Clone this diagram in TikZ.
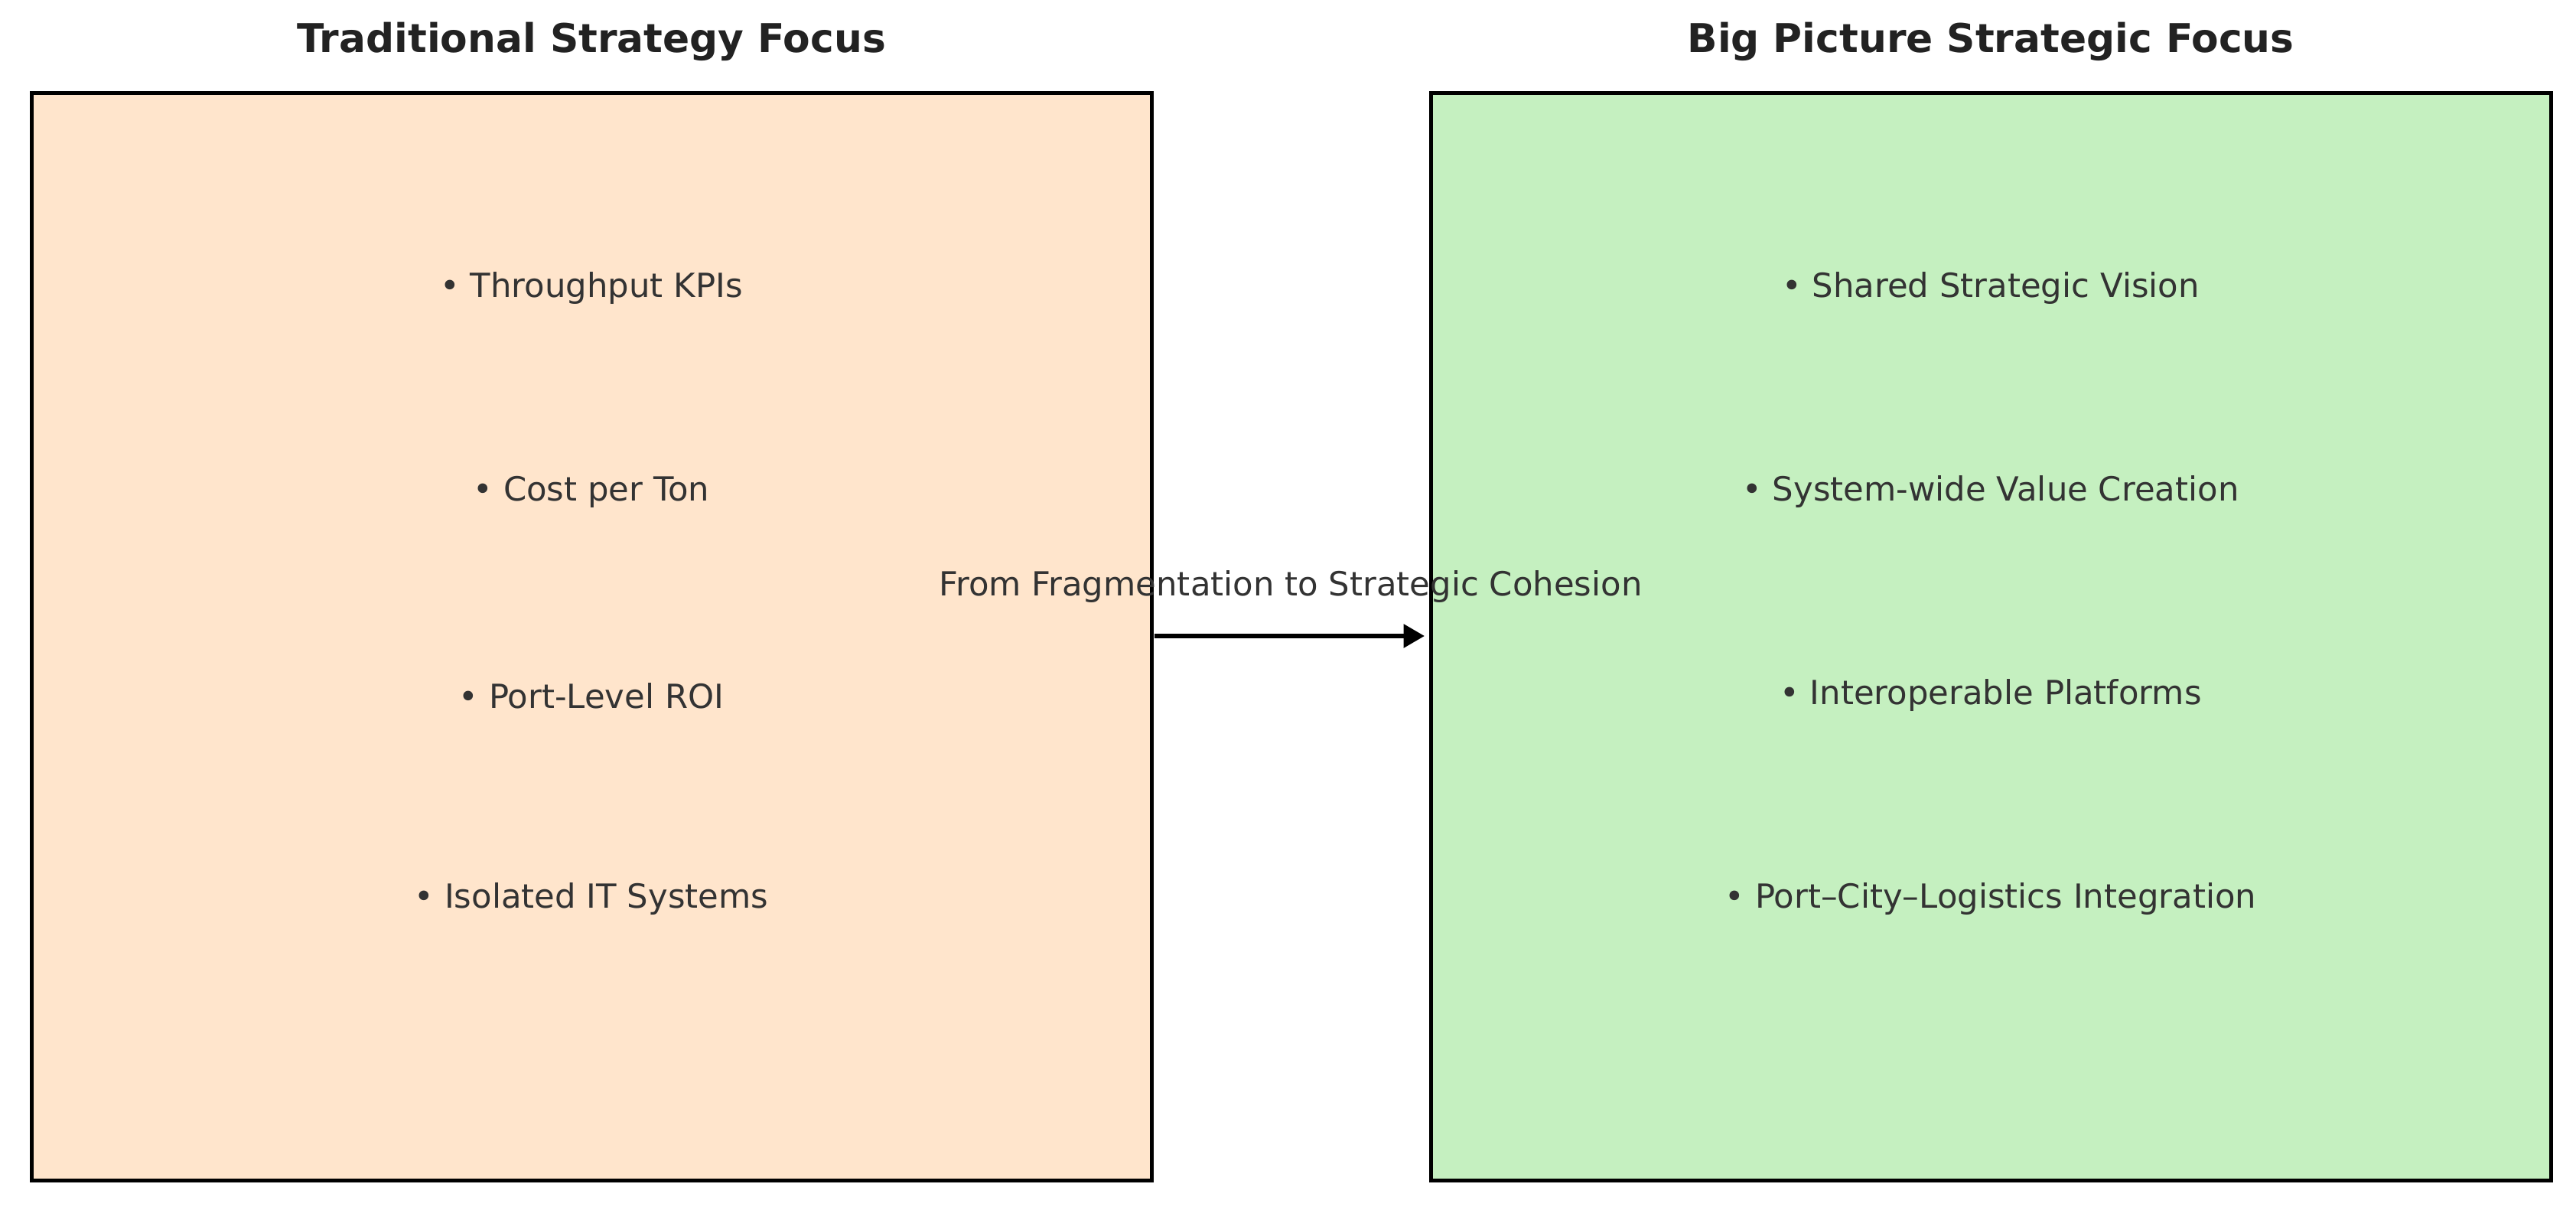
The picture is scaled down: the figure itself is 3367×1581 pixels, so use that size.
\documentclass[tikz,border=0pt]{standalone}
\usepackage{fontspec}
\setmainfont{DejaVu Sans}
\usetikzlibrary{arrows.meta}
\definecolor{peach}{HTML}{FFE5CC}
\definecolor{mint}{HTML}{C5F0C0}
\definecolor{txt}{HTML}{333333}
\definecolor{ttl}{HTML}{222222}
\tikzset{
  panel/.style={draw=black, line width=0.1cm},
  item/.style={text=txt, font=\fontsize{24.7}{29}\selectfont, inner sep=0pt},
  heading/.style={text=ttl, font=\fontsize{29.5}{34}\selectfont\bfseries, inner sep=0pt},
  flow/.style={line width=0.12cm, -{Triangle[length=0.55cm,width=0.6cm]}}
}
\begin{document}
\begin{tikzpicture}[x=0.02cm,y=-0.02cm]
\useasboundingbox[fill=white] (0,0) rectangle (3367,1581);
\draw[panel, fill=peach] (41,122) rectangle (1505,1542);
\draw[panel, fill=mint] (1870,122) rectangle (3334,1542);
\coordinate (L) at (1509,831);
\coordinate (R) at (1862,831);
\node[heading] (t1) at (773,54) {Traditional Strategy Focus};
\node[heading] (t2) at (2602,54) {Big Picture Strategic Focus};
\node[item] (a1) at (773,377) {• Throughput KPIs};
\node[item] (a2) at (773,643) {• Cost per Ton};
\node[item] (a3) at (773,909) {• Port-Level ROI};
\node[item] (a4) at (773,1175) {• Isolated IT Systems};
\node[item] (b1) at (2602,377) {• Shared Strategic Vision};
\node[item] (b2) at (2602,643) {• System-wide Value Creation};
\node[item] (b3) at (2602,909) {• Interoperable Platforms};
\node[item] (b4) at (2602,1175) {• Port–City–Logistics Integration};
\node[item] (lab) at (1687,767) {From Fragmentation to Strategic Cohesion};
\draw[flow] (L) -- (R);
\end{tikzpicture}
\end{document}
